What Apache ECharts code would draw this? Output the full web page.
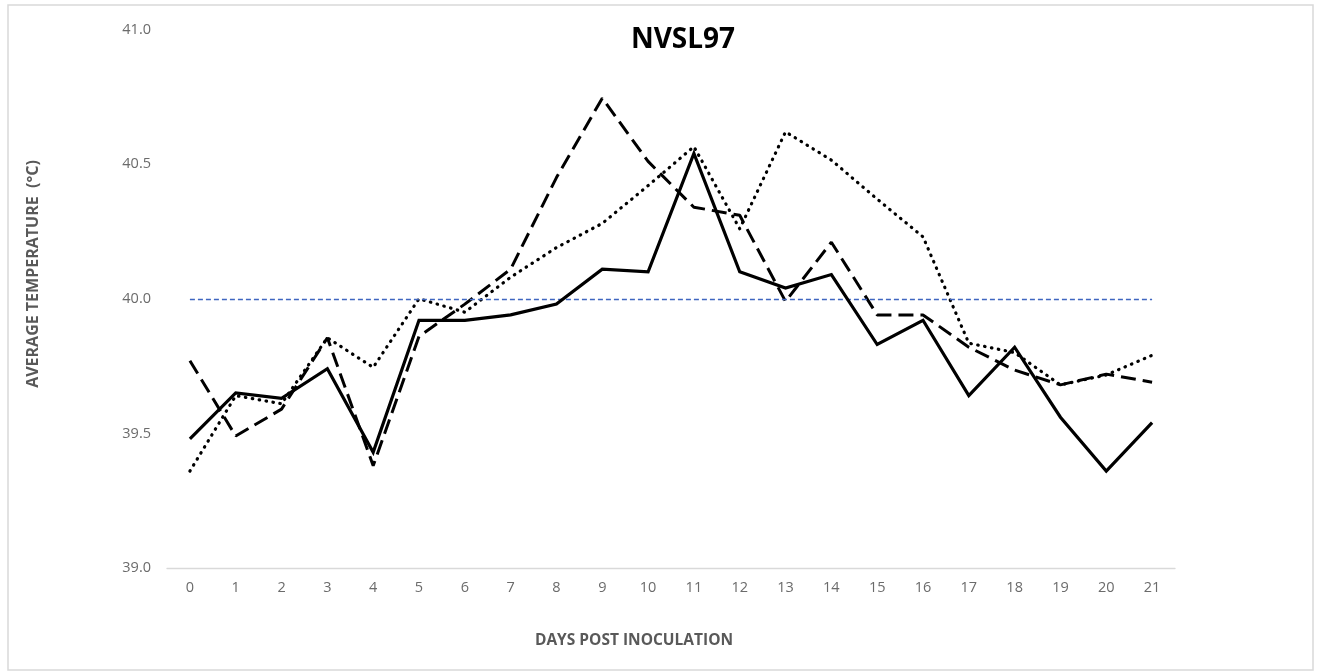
<!DOCTYPE html>
<html>
<head>
<meta charset="utf-8">
<script src="https://cdn.jsdelivr.net/npm/echarts@6/dist/echarts.min.js"></script>
<style>
html,body{margin:0;padding:0;background:#fff;}
#chart{width:1321px;height:672px;}
</style>
</head>
<body>
<div id="chart"></div>
<script>
// ---- data ----
var days = ['0','1','2','3','4','5','6','7','8','9','10','11','12','13','14','15','16','17','18','19','20','21'];
var solidSeries  = [39.48,39.65,39.63,39.74,39.43,39.92,39.92,39.94,39.98,40.11,40.10,40.54,40.10,40.04,40.09,39.83,39.92,39.64,39.82,39.56,39.36,39.54];
var dashedSeries = [39.77,39.49,39.59,39.855,39.38,39.86,39.98,40.11,40.45,40.745,40.51,40.34,40.31,39.99,40.21,39.94,39.94,39.82,39.735,39.68,39.72,39.69];
var dottedSeries = [39.36,39.64,39.61,39.855,39.745,40.00,39.95,40.08,40.19,40.28,40.42,40.565,40.26,40.62,40.515,40.37,40.23,39.835,39.80,39.68,39.717,39.79];
var referenceLevel = 40.0;
var yTicks = {min: 39.0, max: 41.0, interval: 0.5};
var titleText = 'NVSL97';
var xName = 'DAYS POST INOCULATION';
var yName = 'AVERAGE TEMPERATURE  (°C)';

var FONT = '"Open Sans", "DejaVu Sans", sans-serif';
var chart = echarts.init(document.getElementById('chart'), null, {renderer: 'canvas'});

var option = {
  animation: false,
  backgroundColor: '#ffffff',
  title: {
    text: titleText,
    left: 678,
    top: 21,
    textAlign: 'center',
    textStyle: {fontFamily: FONT, fontWeight: 'bold', fontSize: 28, color: '#000000'}
  },
  grid: {left: 167, right: 146, top: 29.5, bottom: 104, containLabel: false},
  xAxis: {
    type: 'category',
    data: days,
    boundaryGap: true,
    axisLine: {show: true, lineStyle: {color: '#d9d9d9', width: 1.3}},
    axisTick: {show: false},
    axisLabel: {fontFamily: FONT, fontSize: 14.5, color: '#6b6b6b', margin: 12},
    splitLine: {show: false}
  },
  yAxis: {
    type: 'value',
    min: yTicks.min,
    max: yTicks.max,
    interval: yTicks.interval,
    axisLine: {show: false},
    axisTick: {show: false},
    splitLine: {show: false},
    axisLabel: {
      fontFamily: FONT, fontSize: 14.5, color: '#6b6b6b', margin: 16,
      formatter: function (v) { return v.toFixed(1); }
    }
  },
  graphic: [
    {
      type: 'rect',
      silent: true,
      shape: {x: 8, y: 5, width: 1305, height: 665},
      style: {fill: 'none', stroke: '#d9d9d9', lineWidth: 1.5}
    },
    {
      type: 'text',
      silent: true,
      x: 634, y: 641,
      style: {text: xName, fontFamily: FONT, fontWeight: 'bold', fontSize: 15.5, fill: '#595959',
              align: 'center', verticalAlign: 'middle'}
    },
    {
      type: 'text',
      silent: true,
      x: 33, y: 274,
      rotation: Math.PI / 2,
      style: {text: yName, fontFamily: FONT, fontWeight: 'bold', fontSize: 16, fill: '#595959',
              align: 'center', verticalAlign: 'middle'}
    }
  ],
  series: [
    {
      name: 'Solid',
      type: 'line',
      data: solidSeries,
      symbol: 'none',
      z: 5,
      lineStyle: {color: '#000000', width: 3.2, type: 'solid', join: 'miter'},
      markLine: {
        silent: true,
        symbol: 'none',
        label: {show: false},
        emphasis: {disabled: true},
        lineStyle: {color: '#3f66c0', width: 1.3, type: [5, 3], opacity: 1},
        data: [[{coord: [days[0], referenceLevel]}, {coord: [days[days.length - 1], referenceLevel]}]]
      }
    },
    {
      name: 'Dashed',
      type: 'line',
      data: dashedSeries,
      symbol: 'none',
      z: 4,
      lineStyle: {color: '#000000', width: 3, type: [15, 7]}
    },
    {
      name: 'Dotted',
      type: 'line',
      data: dottedSeries,
      symbol: 'none',
      z: 3,
      lineStyle: {color: '#000000', width: 3.2, type: [0.5, 6.5], cap: 'round'}
    }
  ]
};
chart.setOption(option);
</script>
</body>
</html>
